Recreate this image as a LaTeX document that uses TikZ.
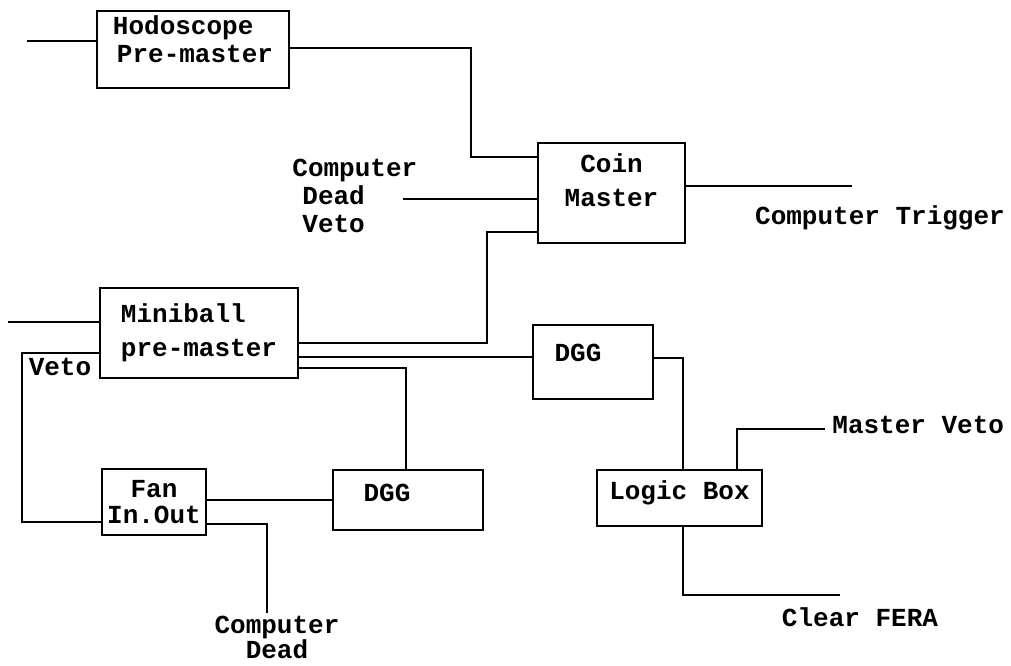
\documentclass[tikz,border=0pt]{standalone}
\usepackage{fontspec}
\setmonofont{Liberation Mono}
\usetikzlibrary{positioning,calc}

\tikzset{
  box/.style={draw, line width=1pt, rectangle, inner sep=0pt, align=center},
  wire/.style={line width=1pt},
  lbl/.style={inner sep=0pt},
}

\begin{document}
\begin{tikzpicture}[x=0.5pt, y=-0.5pt, font=\ttfamily\bfseries\fontsize{13}{14}\selectfont]
    \useasboundingbox (0,0) rectangle (1011,665);

    % the boxes
    \node[box, minimum width=96pt, minimum height=38.5pt, text depth=10pt, align=left] (hodo) at (193,49.5) {Hodoscope\\\hspace*{2pt}Pre-master};
    \node[box, minimum width=73.5pt, minimum height=50pt, text depth=13pt] (coin) at (611.5,193) {Coin\\[3pt]Master};
    \node[box, minimum width=99pt, minimum height=45pt, align=left] (mini) at (199,333) {Miniball\\[3pt]pre-master};
    \node[box, minimum width=60pt, minimum height=37pt, text depth=9pt] (dgga) at (593,362) {DGG\hspace*{15pt}};
    \node[box, minimum width=75pt, minimum height=30pt, text depth=7pt] (dggb) at (408,500) {DGG\hspace*{21pt}};
    \node[box, minimum width=52pt, minimum height=33pt] (fan) at (154,502) {Fan\\[-1pt]In.Out};
    \node[box, minimum width=82.5pt, minimum height=28pt, text depth=8pt] (logic) at (679.5,498) {Logic Box};

    % free labels
    \node[lbl, anchor=west, align=left] (cdv) at (292,196) {Computer\\\hspace*{5pt}Dead\\\hspace*{5pt}Veto};
    \node[lbl] (trig) at (880,218) {Computer Trigger};
    \node[lbl, anchor=west] (mveto) at (832,425) {Master Veto};
    \node[lbl] (clear) at (860,617) {Clear FERA};
    \node[lbl, align=center] (cdead) at (277,637) {Computer\\[-1.5pt]Dead};
    \node[lbl] (veto) at (60,367) {Veto};

    % loose ends
    \coordinate (hodoin) at (27,41);
    \coordinate (miniin) at (8,322);
    \coordinate (cdvend) at (403,199);
    \coordinate (trigend) at (852,186);
    \coordinate (cdeadend) at (267,613);
    \coordinate (mvend) at (825,429);
    \coordinate (cfend) at (840,595);

    % wiring
    \draw[wire] (hodoin) -- (hodoin -| hodo.west);
    \draw[wire] ($(hodo.east)+(0,-1.5)$) -| ($(coin.west)+(-66,-36)$) -- ($(coin.west)+(0,-36)$);
    \draw[wire] (cdvend) -- (cdvend -| coin.west);
    \draw[wire] (trigend -| coin.east) -- (trigend);

    \draw[wire] (miniin) -- (miniin -| mini.west);
    \draw[wire] ($(mini.west)+(0,20)$) -| ($(fan.west)+(-79,20)$) -- ($(fan.west)+(0,20)$);
    \draw[wire] ($(mini.east)+(0,10)$) -| ($(coin.west)+(-50,39)$) -- ($(coin.west)+(0,39)$);
    \draw[wire] ($(mini.east)+(0,24)$) -- ($(dgga.west)+(0,-5)$);
    \draw[wire] ($(mini.east)+(0,35)$) -| ($(dggb.north)+(-2,0)$);

    \draw[wire] ($(fan.east)+(0,-2)$) -- (dggb.west);
    \draw[wire] ($(fan.east)+(0,22)$) -| (cdeadend);

    \draw[wire] ($(dgga.east)+(0,-4)$) -| ($(logic.north)+(3.5,0)$);
    \draw[wire] ($(logic.north)+(57.5,0)$) |- (mvend);
    \draw[wire] ($(logic.south)+(3.5,0)$) |- (cfend);
\end{tikzpicture}
\end{document}
